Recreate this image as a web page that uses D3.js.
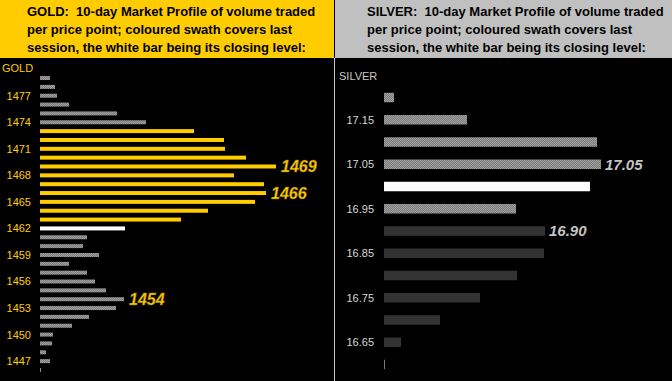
<!DOCTYPE html>
<html>
<head>
<meta charset="utf-8">
<script src="https://d3js.org/d3.v7.min.js"></script>
<style>
  body { margin: 0; background: #000; }
  svg { display: block; font-family: "Liberation Sans", Arial, sans-serif; }
  .hdr { font-weight: bold; font-size: 13px; white-space: pre; fill: #000; }
  .tick { font-size: 11px; }
  .note { font-weight: bold; font-style: italic; font-size: 16px; }
</style>
</head>
<body>
<div id="chart"></div>
<script>
// gold: price rows top to bottom, bar lengths (volume), session kind
var goldPrices = d3.range(1479, 1445, -1);
var goldVolume = [10, 15, 17, 29, 77, 106,
  154, 184, 185, 206, 236, 194, 224, 226, 215, 168, 141,
  85,
  47, 43, 59, 29, 47, 55, 66, 84, 76, 49, 32, 13, 12, 6, 10, 1];
var goldSession = [1473, 1463];   // coloured swath range
var goldClose = 1462;
var goldTicks = [1477, 1474, 1471, 1468, 1465, 1462, 1459, 1456, 1453, 1450, 1447];
var goldNotes = [1469, 1466, 1454];

var silverPrices = ["17.20", "17.15", "17.10", "17.05", "17.00", "16.95", "16.90",
  "16.85", "16.80", "16.75", "16.70", "16.65", "16.60"];
var silverVolume = [10, 83, 213, 217, 206, 132, 161, 160, 133, 96, 56, 17, 1];
var silverSession = ["17.20", "17.15", "17.10", "17.05", "16.95"];
var silverClose = "17.00";
var silverTicks = ["17.15", "17.05", "16.95", "16.85", "16.75", "16.65"];
var silverNotes = ["17.05", "16.90"];

var W = 672, H = 381;
var svg = d3.select("#chart").append("svg").attr("width", W).attr("height", H);

var defs = svg.append("defs");
var pat = defs.append("pattern").attr("id", "dither")
  .attr("width", 2).attr("height", 2).attr("patternUnits", "userSpaceOnUse");
pat.append("rect").attr("width", 2).attr("height", 2).attr("fill", "#7a7a7a");
pat.append("rect").attr("width", 1).attr("height", 1).attr("fill", "#a2a2a2");
pat.append("rect").attr("x", 1).attr("y", 1).attr("width", 1).attr("height", 1).attr("fill", "#a2a2a2");

svg.append("rect").attr("width", W).attr("height", H).attr("fill", "#000");

// headers
svg.append("rect").attr("x", 0).attr("y", 0).attr("width", 334).attr("height", 58).attr("fill", "#ffcc00");
svg.append("rect").attr("x", 335).attr("y", 0).attr("width", 337).attr("height", 58).attr("fill", "#c0c0c0");
svg.append("line").attr("x1", 334.5).attr("x2", 334.5).attr("y1", 58).attr("y2", H)
  .attr("stroke", "#c8c8c8").attr("stroke-width", 1);

var goldHdr = ["GOLD:  10-day Market Profile of volume traded",
  "per price point; coloured swath covers last",
  "session, the white bar being its closing level:"];
var silverHdr = ["SILVER:  10-day Market Profile of volume traded",
  "per price point; coloured swath covers last",
  "session, the white bar being its closing level:"];
goldHdr.forEach(function(t, i) {
  svg.append("text").attr("class", "hdr").attr("x", 27).attr("y", 16 + i * 18).text(t);
});
silverHdr.forEach(function(t, i) {
  svg.append("text").attr("class", "hdr").attr("x", 367).attr("y", 16 + i * 18).text(t);
});

// gold panel
var gy = d3.scaleBand().domain(goldPrices).range([73.6, 374.4]).paddingInner(0.55).paddingOuter(0.275);
var gx = d3.scaleLinear().domain([0, 300]).range([40, 340]);

svg.append("text").attr("x", 2).attr("y", 72).attr("class", "tick").attr("fill", "#ffcc00").text("GOLD");

svg.append("g").selectAll("rect").data(goldPrices).join("rect")
  .attr("x", gx(0))
  .attr("y", function(d) { return gy(d); })
  .attr("height", gy.bandwidth())
  .attr("width", function(d, i) { return gx(goldVolume[i]) - gx(0); })
  .attr("fill", function(d) {
    if (d === goldClose) return "#ffffff";
    if (d <= goldSession[0] && d >= goldSession[1]) return "#ffcc00";
    return "url(#dither)";
  });

svg.append("g").selectAll("text").data(goldTicks).join("text")
  .attr("class", "tick").attr("fill", "#ffcc00")
  .attr("x", 31).attr("text-anchor", "end")
  .attr("y", function(d) { return gy(d) + gy.bandwidth() / 2; })
  .attr("dy", "0.36em")
  .text(function(d) { return d; });

svg.append("g").selectAll("text").data(goldNotes).join("text")
  .attr("class", "note").attr("fill", "#ffcc00")
  .attr("stroke", "#8a6a00").attr("stroke-width", 0.4)
  .attr("x", function(d) { return gx(goldVolume[goldPrices.indexOf(d)]) + 5; })
  .attr("y", function(d) { return gy(d) + gy.bandwidth() / 2; })
  .attr("dy", "0.36em")
  .text(function(d) { return d; });

// silver panel
var sy = d3.scaleBand().domain(silverPrices).range([86.4, 375.6]).paddingInner(0.573).paddingOuter(0.2865);
var sx = d3.scaleLinear().domain([0, 300]).range([384, 684]);

svg.append("text").attr("x", 339).attr("y", 80).attr("class", "tick").attr("fill", "#c8c8c8").text("SILVER");

svg.append("g").selectAll("rect").data(silverPrices).join("rect")
  .attr("x", sx(0))
  .attr("y", function(d) { return sy(d); })
  .attr("height", sy.bandwidth())
  .attr("width", function(d, i) { return sx(silverVolume[i]) - sx(0); })
  .attr("fill", function(d, i) {
    if (d === silverClose) return "#ffffff";
    if (silverSession.indexOf(d) >= 0) return "url(#dither)";
    return i === silverPrices.length - 1 ? "#777" : "#333333";
  });

svg.append("g").selectAll("text").data(silverTicks).join("text")
  .attr("class", "tick").attr("fill", "#d8d8d8")
  .attr("x", 374).attr("text-anchor", "end")
  .attr("y", function(d) { return sy(d) + sy.bandwidth() / 2; })
  .attr("dy", "0.36em")
  .text(function(d) { return d; });

svg.append("g").selectAll("text").data(silverNotes).join("text")
  .attr("class", "note").attr("fill", "#c4c4c4").style("font-size", "15px")
  .attr("x", function(d) { return sx(silverVolume[silverPrices.indexOf(d)]) + 4; })
  .attr("y", function(d) { return sy(d) + sy.bandwidth() / 2; })
  .attr("dy", "0.36em")
  .text(function(d) { return d; });
</script>
</body>
</html>
